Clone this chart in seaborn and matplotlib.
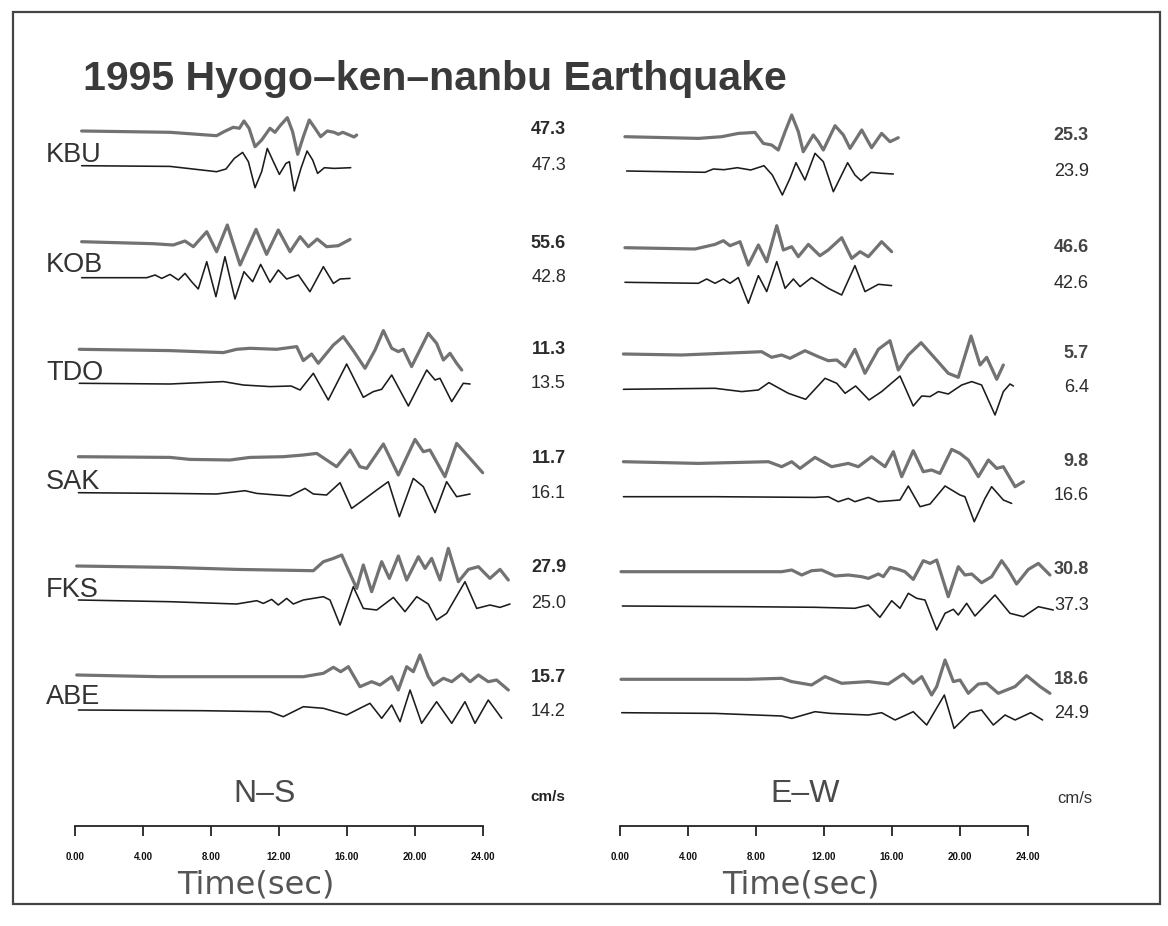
import matplotlib
matplotlib.use("Agg")
import matplotlib.pyplot as plt
import numpy as np
import pandas as pd
import seaborn as sns

# ---------------- data (time in s, relative amplitude, positive = up) ----------------
stations = ["KBU", "KOB", "TDO", "SAK", "FKS", "ABE"]

ns_upper_peak = ["47.3", "55.6", "11.3", "11.7", "27.9", "15.7"]
ns_lower_peak = ["47.3", "42.8", "13.5", "16.1", "25.0", "14.2"]
ew_upper_peak = ["25.3", "46.6", "5.7", "9.8", "30.8", "18.6"]
ew_lower_peak = ["23.9", "42.6", "6.4", "16.6", "37.3", "24.9"]

time_ticks = [0, 4, 8, 12, 16, 20, 24]
time_tick_labels = ["0.00", "4.00", "8.00", "12.00", "16.00", "20.00", "24.00"]

NS_KBU_UP = [(0.39,0),(5.59,-1.3),(8.33,-4.7),(8.76,-0.7),(9.31,3.7),(9.67,2.7),(9.94,10),(10.24,2.7),(10.59,-15.7),(10.98,-9),(11.47,2.7),(11.76,-1.3),(12.10,6),(12.49,13.3),(12.80,-0.7),(13.10,-23.3),(13.43,-5.7),(13.78,11),(14.12,2.7),(14.45,-5.7),(14.84,0),(15.24,-1.3),(15.49,-3.3),(15.75,-1.3),(16.14,-4),(16.41,-6),(16.57,-4)]
NS_KBU_LO = [(0.39,0),(5.59,-0.7),(8.33,-6),(8.88,-3.3),(9.37,7.3),(9.86,13.3),(10.20,4),(10.59,-22),(10.98,-6),(11.31,17.3),(11.67,4),(12.02,-8.7),(12.41,2.3),(12.61,4),(12.90,-25.3),(13.29,-2.7),(13.65,14.7),(13.98,5.7),(14.27,-7.7),(14.67,-2),(15.24,-2.7),(16.22,-2)]
NS_KOB_UP = [(0.39,0),(4.61,-2),(5.78,-3.3),(6.47,0.7),(6.96,-5),(7.75,10),(8.33,-10),(8.96,16.7),(9.71,-23.3),(10.65,12.3),(11.27,-12.7),(11.96,11.7),(12.65,-10),(13.24,5),(13.73,-5),(14.25,2.7),(14.80,-5),(15.49,-4),(16.18,2.3)]
NS_KOB_LO = [(0.39,0),(4.22,0),(4.71,2.7),(5.10,-0.7),(5.59,3.3),(6.08,-2.3),(6.47,4.3),(6.86,-4),(7.25,-11.3),(7.75,16),(8.29,-19),(8.82,21),(9.41,-21.3),(9.94,6),(10.45,-4),(10.92,13.3),(11.47,-4.7),(11.96,7.7),(12.45,-1.3),(13.14,2.7),(13.82,-14),(14.61,11),(15.20,-5.7),(15.59,-1.3),(16.18,-0.7)]
NS_TDO_UP = [(0.25,0),(5.59,-1.3),(8.73,-3.3),(9.51,0),(10.29,1),(11.86,0),(13.04,2.7),(13.43,-11.3),(13.92,-4.7),(14.31,-14),(15.20,4.3),(15.78,12.7),(16.41,-2.3),(17.06,-19),(17.65,-0.7),(18.14,18.7),(18.63,1),(19.02,-2.3),(19.31,0),(19.80,-17.3),(20.78,16),(21.27,6),(21.67,-10.7),(22.06,-4),(22.45,-14),(22.75,-20.7)]
NS_TDO_LO = [(0.25,0),(5.59,-0.7),(8.73,1.7),(9.90,-1.7),(11.47,-3.3),(12.71,-2.7),(13.24,-6.7),(14.02,10),(14.90,-16.7),(15.98,19.3),(16.96,-14),(17.55,-8.3),(18.04,-6),(18.63,8.3),(19.61,-22.7),(20.69,13.3),(21.18,3.3),(21.47,5),(22.16,-18.3),(22.84,0),(23.24,-0.7)]
NS_SAK_UP = [(0.20,0),(5.59,-0.7),(6.76,-2.7),(9.12,-3.3),(10.29,-0.7),(12.25,0),(13.43,1.7),(14.22,3.3),(14.80,-3.3),(15.39,-10),(16.18,6.7),(16.76,-10),(17.16,-11.7),(18.14,12.7),(19.02,-18.3),(20.0,17.3),(20.49,5),(20.88,6.7),(21.76,-20),(22.45,13.3),(23.24,-1.7),(23.98,-16)]
NS_SAK_LO = [(0.20,0),(5.59,-0.7),(8.33,-1.3),(10.0,2),(10.69,-0.7),(11.86,-2.3),(12.65,-3.3),(13.53,4.3),(14.02,-1.3),(14.80,-2.3),(15.59,10),(16.27,-15.7),(16.96,-7.3),(17.75,2.7),(18.43,11),(19.08,-24),(19.90,14.3),(20.49,6),(21.18,-20),(21.86,11),(22.45,-4),(23.24,-1.3)]
NS_FKS_UP = [(0.10,0.7),(5.59,-0.7),(9.51,-2.7),(14.02,-4),(14.61,5),(15.20,8.3),(15.69,11.7),(16.08,-3.3),(16.57,-21.7),(16.96,1.7),(17.45,-25),(18.04,5),(18.49,-11.7),(19.02,10.7),(19.51,-13.3),(20.20,10),(20.59,-1.7),(20.98,8.3),(21.47,-13.3),(21.96,18.3),(22.55,-15),(23.14,-2.7),(23.73,0),(24.41,-11.7),(25.0,-2.7),(25.49,-13.3)]
NS_FKS_LO = [(0.20,0.7),(5.59,-1),(9.51,-3.3),(10.69,0),(11.08,-2.7),(11.57,1.3),(11.96,-4.3),(12.45,2.3),(12.84,-3.3),(13.43,0.7),(14.61,4),(15.0,0.7),(15.59,-24.3),(16.37,14),(16.96,-7.7),(17.75,-9.3),(18.73,3.3),(19.41,-11),(20.10,4),(20.78,-3.3),(21.27,-19.3),(21.86,-12.7),(22.94,19),(23.63,-7.7),(24.41,-4.3),(25.0,-6.7),(25.59,-3.3)]
NS_ABE_UP = [(0.10,0),(5.0,-1.7),(7.35,-1.7),(13.43,-1.7),(14.61,1.7),(15.20,7.7),(15.63,3.3),(16.08,8.3),(16.76,-11.7),(17.45,-6.7),(17.94,-10),(18.63,-1.7),(19.02,-15),(19.51,8.3),(19.90,3.3),(20.29,20),(20.78,-1.7),(21.08,-10),(21.67,-3.3),(22.16,-6.7),(22.75,1),(23.24,-6.7),(23.73,0),(24.31,-6.7),(24.80,-5),(25.49,-15)]
NS_ABE_LO = [(0.20,0),(7.55,-0.7),(11.47,-1.7),(12.25,-6.7),(13.43,3.3),(14.61,1.7),(15.98,-5),(16.76,1.7),(17.35,6.7),(18.04,-8.3),(18.63,5),(19.12,-11.7),(19.71,20),(20.39,-13.3),(21.27,8.3),(22.16,-13.3),(22.94,8.3),(23.53,-13.3),(24.31,10),(25.10,-8.3)]

EW_KBU_UP = [(0.29,0),(4.61,-1.7),(5.98,0),(6.96,3.3),(7.94,4.3),(8.43,-6.7),(8.92,-8.3),(9.31,-13.3),(9.71,5),(10.10,21.7),(10.49,5),(10.78,-15),(11.37,1.7),(11.67,-5),(11.96,-13.3),(12.65,11),(13.14,1.7),(13.53,-11.7),(14.22,6.7),(14.80,-11),(15.39,3.3),(15.88,-5),(16.37,-1)]
EW_KBU_LO = [(0.39,0),(5.0,-1.3),(5.49,2),(6.12,1.3),(6.90,3.3),(7.69,1),(8.47,5.3),(8.96,-4),(9.55,-24),(10.0,-7.3),(10.35,8.3),(10.88,-9),(11.47,17.7),(11.96,9.3),(12.55,-20.7),(12.94,-7.3),(13.39,8.3),(13.82,-4),(14.18,-9.7),(14.76,-1.3),(15.39,-2.3),(16.08,-3)]
EW_KOB_UP = [(0.29,0),(4.41,-1.3),(5.0,1),(5.59,3.3),(6.08,7),(6.47,2),(7.06,6),(7.55,-17.3),(8.14,2.7),(8.63,-14),(9.22,22),(9.61,-2.3),(10.10,1),(10.49,-9),(11.08,3.3),(11.76,-8),(12.25,-2.3),(13.04,10),(13.63,-10.7),(14.12,-4),(14.61,-9),(15.39,6),(15.98,-4)]
EW_KOB_LO = [(0.29,0),(4.61,-1),(5.10,3.3),(5.59,-1),(6.08,3.3),(6.47,-1),(6.96,4.7),(7.55,-21),(8.14,6.7),(8.63,-9.3),(9.22,20.7),(9.71,-6),(10.20,3.3),(10.59,-4.3),(11.27,4.7),(12.25,-6),(13.04,-12.7),(13.82,16.7),(14.41,-9.3),(15.20,-2),(15.98,-3.3)]
EW_TDO_UP = [(0.20,0),(3.63,-1),(8.33,2.3),(8.92,-3.3),(9.51,-1),(10.0,-4.3),(10.88,3.3),(11.67,-2.7),(12.25,-6.7),(12.75,-6),(13.24,-12.7),(13.82,4.7),(14.41,-19.3),(15.20,4.7),(15.88,13.3),(16.37,-16),(16.96,-1),(17.71,11.3),(18.53,-4.3),(19.31,-19.3),(19.90,-23.3),(20.65,18),(21.18,-11),(21.57,-3.3),(22.16,-25.3),(22.55,-11)]
EW_TDO_LO = [(0.20,0),(5.59,1),(7.16,-2.3),(8.14,-0.7),(8.76,6.7),(9.90,-4),(10.92,-10),(12.06,11),(12.75,6),(13.24,-4),(13.86,3.3),(14.65,-10.7),(15.39,-2.3),(16.47,13.3),(17.25,-16.7),(17.75,-6.7),(18.24,-7.3),(18.73,-2.3),(19.31,-4.7),(20.10,4.3),(20.69,7.7),(21.27,4.3),(22.06,-25.7),(22.55,-2.3),(22.94,5.3),(23.14,3.3)]
EW_SAK_UP = [(0.20,0),(4.61,-1.7),(8.73,0),(9.51,-5),(10.10,0),(10.59,-6.7),(11.47,4.3),(12.45,-5),(13.43,-1.7),(14.02,-5),(14.80,5),(15.59,-5),(16.08,10),(16.57,-15),(17.25,11),(17.84,-10),(18.33,-8.3),(18.82,-11.7),(19.51,12.3),(20.0,8.3),(20.49,1.7),(21.08,-15),(21.67,1.7),(22.16,-6.7),(22.55,-5),(23.24,-25),(23.73,-20)]
EW_SAK_LO = [(0.20,0),(5.59,0),(11.47,-0.7),(12.25,0),(12.84,-5),(13.43,-1.7),(13.82,-5),(14.61,-0.7),(15.20,-5),(16.47,-3.3),(16.96,10.7),(17.65,-10),(18.24,-7.3),(19.12,10.7),(20.0,1.7),(20.29,0),(20.84,-25),(21.47,-1.7),(21.86,10),(22.55,-3.3),(23.04,-6.7)]
EW_FKS_UP = [(0.06,0),(5.59,0),(9.51,0),(10.10,1.7),(10.69,-3.3),(11.27,1),(11.86,1.7),(12.65,-4.3),(13.43,-3.3),(14.22,-5),(14.61,-6.7),(15.20,-2.3),(15.49,-5),(15.88,4.3),(16.37,2.3),(16.76,0),(17.25,-7.7),(17.84,11),(18.24,8.3),(18.63,11.7),(19.31,-25),(19.90,5),(20.29,-3.3),(20.69,-2.3),(21.27,-11),(21.86,-5),(22.45,11),(22.84,1.7),(23.33,-12.3),(24.02,2.3),(24.61,8.3),(25.29,-3.3)]
EW_FKS_LO = [(0.14,0),(7.55,-0.7),(11.47,-1.3),(13.82,-2.3),(14.61,1),(15.29,-11.3),(15.98,5.3),(16.47,-2.3),(16.96,12.7),(17.45,7.7),(17.94,6),(18.63,-24),(19.12,-7.3),(19.61,-3.3),(19.90,-9),(20.39,2.7),(20.88,-10),(22.06,11),(22.94,-7.3),(23.73,-10.7),(24.61,-0.7),(25.49,-4)]
EW_ABE_UP = [(0.06,0),(7.55,0),(9.51,1),(10.10,-2.3),(11.27,-5.7),(12.06,2.7),(13.04,-4),(14.61,-2.3),(15.78,-4.7),(16.67,5.3),(17.25,-4),(17.75,2.7),(18.33,-15.7),(18.63,-7.3),(19.12,19.3),(19.61,-2.3),(20.0,-0.7),(20.49,-14),(21.08,-4.7),(21.57,-4),(22.25,-14),(23.24,-7.3),(23.92,3.7),(24.71,-7.3),(25.29,-14)]
EW_ABE_LO = [(0.10,0),(5.59,-0.7),(9.51,-3.3),(10.10,-5.7),(11.47,1),(12.39,-0.7),(14.61,-2.3),(15.39,0),(16.18,-7.3),(17.25,1),(18.04,-12.3),(19.08,17.7),(19.65,-15.7),(20.59,0),(21.27,2.7),(21.96,-12.3),(22.65,-2.3),(23.24,-7.3),(24.16,0),(24.86,-7.3)]

traces = {
    ("N-S", "upper"): [NS_KBU_UP, NS_KOB_UP, NS_TDO_UP, NS_SAK_UP, NS_FKS_UP, NS_ABE_UP],
    ("N-S", "lower"): [NS_KBU_LO, NS_KOB_LO, NS_TDO_LO, NS_SAK_LO, NS_FKS_LO, NS_ABE_LO],
    ("E-W", "upper"): [EW_KBU_UP, EW_KOB_UP, EW_TDO_UP, EW_SAK_UP, EW_FKS_UP, EW_ABE_UP],
    ("E-W", "lower"): [EW_KBU_LO, EW_KOB_LO, EW_TDO_LO, EW_SAK_LO, EW_FKS_LO, EW_ABE_LO],
}

# ---------------- layout (pixel rows / columns of the page) ----------------
W, H = 1168, 926
baselines = {
    ("N-S", "upper"): [131, 241.7, 349.3, 456.7, 566.7, 675],
    ("N-S", "lower"): [165.7, 277.7, 383.3, 492.7, 600.7, 710],
    ("E-W", "upper"): [136.7, 247.7, 354, 461.7, 571.7, 679.3],
    ("E-W", "lower"): [171, 282.3, 389.3, 496.7, 606, 712.7],
}
t0_px = {"N-S": 75, "E-W": 620}
PX_PER_S = 17.0
T_LO, T_HI = -2.0, 27.0
Y_TOP, Y_BOT = 90, 850
AXIS_ROW = 826

rows = []
for (comp, kind), lst in traces.items():
    for i, tr in enumerate(lst):
        for t, a in tr:
            rows.append((comp, kind, stations[i], t, baselines[(comp, kind)][i] - a))
df = pd.DataFrame(rows, columns=["component", "trace", "station", "time", "y"])

sns.set_style("white")
plt.rcParams["font.family"] = ["Liberation Sans", "DejaVu Sans"]

fig = plt.figure(figsize=(W / 100, H / 100), dpi=100)
fig.patch.set_facecolor("white")


def fx(x):
    return x / W


def fy(y):
    return 1 - y / H


for comp in ["N-S", "E-W"]:
    left = t0_px[comp] + T_LO * PX_PER_S
    width = (T_HI - T_LO) * PX_PER_S
    ax = fig.add_axes([fx(left), fy(Y_BOT), width / W, (Y_BOT - Y_TOP) / H])
    ax.patch.set_alpha(0)
    sub = df[df.component == comp]
    sns.lineplot(data=sub[sub.trace == "lower"], x="time", y="y", units="station",
                 estimator=None, sort=False, color="#1c1c1c", linewidth=1.15,
                 ax=ax, legend=False)
    sns.lineplot(data=sub[sub.trace == "upper"], x="time", y="y", units="station",
                 estimator=None, sort=False, color="#727272", linewidth=2.3,
                 ax=ax, legend=False)
    for ln in ax.get_lines():
        ln.set_solid_joinstyle("round")
        ln.set_solid_capstyle("round")
    ax.set_xlim(T_LO, T_HI)
    ax.set_ylim(Y_BOT, Y_TOP)
    for s in ["left", "right", "top"]:
        ax.spines[s].set_visible(False)
    ax.spines["bottom"].set_position(("data", AXIS_ROW))
    ax.spines["bottom"].set_bounds(0, 24)
    ax.spines["bottom"].set_linewidth(1.3)
    ax.spines["bottom"].set_color("#222222")
    ax.set_yticks([])
    ax.set_xticks(time_ticks)
    ax.set_xticklabels(time_tick_labels, fontsize=7, fontweight="bold", color="#111111")
    ax.tick_params(axis="x", bottom=True, direction="out", length=7, width=1.3,
                   pad=12, color="#222222")
    ax.set_xlabel("")
    ax.set_ylabel("")

# title
fig.text(fx(83), fy(90), "1995 Hyogo\u2013ken\u2013nanbu Earthquake", ha="left", va="baseline",
         fontsize=29.5, fontweight="bold", color="#3a3a3a")

# station labels
label_rows = [152.5, 262, 370, 479, 587, 694]
for name, r in zip(stations, label_rows):
    fig.text(fx(46), fy(r + 10), name, ha="left", va="baseline", fontsize=19.5,
             color="#333333")

# peak values
ns_up_rows = [128, 241, 347, 456, 565, 675]
ns_lo_rows = [163, 276, 382, 492, 601, 710]
ew_up_rows = [133, 246, 351, 459, 568, 677]
ew_lo_rows = [170, 281, 386, 494, 604, 712]
for v, r in zip(ns_upper_peak, ns_up_rows):
    fig.text(fx(566), fy(r + 6.5), v, ha="right", va="baseline", fontsize=13,
             fontweight="bold", color="#2a2a2a")
for v, r in zip(ns_lower_peak, ns_lo_rows):
    fig.text(fx(566), fy(r + 6.5), v, ha="right", va="baseline", fontsize=13,
             color="#2a2a2a")
for v, r in zip(ew_upper_peak, ew_up_rows):
    fig.text(fx(1089), fy(r + 6.5), v, ha="right", va="baseline", fontsize=13,
             fontweight="bold", color="#444444")
for v, r in zip(ew_lower_peak, ew_lo_rows):
    fig.text(fx(1089), fy(r + 6.5), v, ha="right", va="baseline", fontsize=13,
             color="#2a2a2a")

# component labels and units
fig.text(fx(265), fy(802), "N\u2013S", ha="center", va="baseline", fontsize=23,
         color="#4a4a4a")
fig.text(fx(805), fy(802), "E\u2013W", ha="center", va="baseline", fontsize=23,
         color="#4a4a4a")
fig.text(fx(548), fy(801), "cm/s", ha="center", va="baseline", fontsize=11,
         fontweight="bold", color="#222222")
fig.text(fx(1075), fy(803), "cm/s", ha="center", va="baseline", fontsize=12,
         color="#333333")

# time labels
for cx in [256, 801]:
    fig.text(fx(cx), fy(893), "Time(sec)", ha="center", va="baseline", fontsize=23,
             family="DejaVu Sans", color="#555555")

# page frame
fig.add_artist(plt.Rectangle((fx(13), fy(904)), (1160 - 13) / W, (904 - 12) / H,
                             transform=fig.transFigure, fill=False, lw=1.6,
                             ec="#444444"))

fig.savefig("out.png", dpi=100, facecolor="white")
